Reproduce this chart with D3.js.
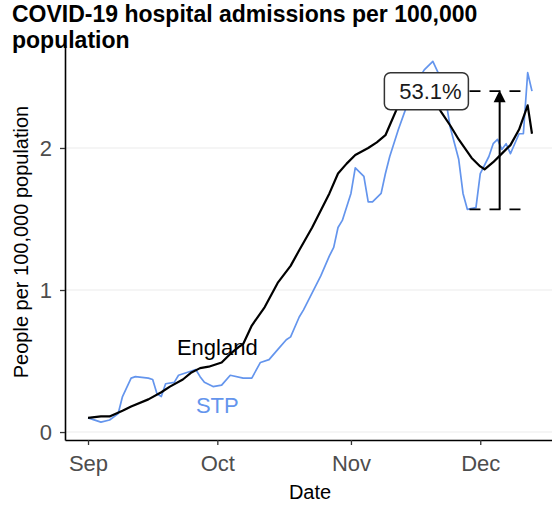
<!DOCTYPE html>
<html><head><meta charset="utf-8">
<script src="https://cdn.jsdelivr.net/npm/d3@7"></script>
<style>body{margin:0;background:#fff}svg{display:block}</style>
</head><body>
<svg id="c" width="552" height="505"></svg>
<script>
const startDate = new Date(2020, 8, 1);
const englandDay = [0,3,5,8,10,14,17,19,22,24,26,28,31,33,35,36,38,41,44,47,49,52,56,58,60,62,65,67,69,70,72,75,77,79,82,84,86,89,91,92,94,96,98,100,102,103];
const englandValue = [0.10,0.11,0.11,0.15,0.18,0.23,0.28,0.32,0.37,0.42,0.45,0.46,0.49,0.55,0.60,0.62,0.75,0.88,1.05,1.17,1.28,1.44,1.68,1.82,1.89,1.95,2.00,2.04,2.09,2.16,2.30,2.42,2.45,2.40,2.25,2.16,2.06,1.93,1.87,1.85,1.90,1.96,2.02,2.13,2.30,2.10];
const stpDay = [0,3,5,7,8,10,11,14,15,16,17,18,20,21,24,25,26,27,29,31,33,36,38,40,42,44,46,47,49,50,52,54,56,57,58,59,61,62,64,65,66,68,69,70,72,74,77,78,80,82,83,84,86,87,88,90,91,93,94,95,96,97,98,99,100,101,102,103];
const stpValue = [0.10,0.07,0.085,0.13,0.25,0.38,0.39,0.38,0.37,0.27,0.25,0.34,0.35,0.40,0.43,0.44,0.39,0.35,0.32,0.33,0.40,0.38,0.38,0.49,0.51,0.58,0.65,0.67,0.81,0.86,0.98,1.10,1.24,1.30,1.44,1.49,1.68,1.86,1.80,1.62,1.62,1.68,1.82,1.94,2.13,2.30,2.50,2.55,2.61,2.48,2.34,2.15,1.92,1.68,1.568,1.58,1.82,1.94,2.03,2.06,1.99,2.03,1.96,2.03,2.10,2.10,2.53,2.40];
const xTickLabels = ["Sep","Oct","Nov","Dec"];
const xTickMonths = [8,9,10,11];
const yTicks = [0,1,2];
const titleLines = ["COVID-19 hospital admissions per 100,000","population"];

const day = d => startDate.getTime() + d*864e5;
const svg = d3.select("#c");
const font = "'Liberation Sans', Arial, sans-serif";

const x = d3.scaleTime().domain([new Date(day(-5.34)), new Date(day(108.34))]).range([65, 555]);
const y = d3.scaleLinear().domain([-0.056, 2.725]).range([440, 45]);

// gridlines
svg.append("g").selectAll("line").data(yTicks).join("line")
  .attr("x1", 65).attr("x2", 555).attr("y1", d=>y(d)).attr("y2", d=>y(d))
  .attr("stroke", "#ebebeb").attr("stroke-width", 1.1);

// lines
const england = englandDay.map((d,i)=>({date:new Date(day(d)), v:englandValue[i]}));
const stp = stpDay.map((d,i)=>({date:new Date(day(d)), v:stpValue[i]}));
const line = d3.line().x(d=>x(d.date)).y(d=>y(d.v));
svg.append("path").datum(stp).attr("d", line).attr("fill","none")
  .attr("stroke","#6495ED").attr("stroke-width",1.7).attr("stroke-linejoin","round");
svg.append("path").datum(england).attr("d", line).attr("fill","none")
  .attr("stroke","#000").attr("stroke-width",2.2).attr("stroke-linejoin","round");

// annotation
const stpLast = stpValue[stpValue.length-1];
const stpMin = d3.min(stpValue.slice(stpDay.indexOf(80)));
const pct = d3.format(".1%")(stpLast/stpMin - 1);
const lineStartDay = 88.5, lineEndDay = 101.5, arrowDay = 95.5, labelDay = 78.5;
[stpLast, stpMin].forEach(v => {
  svg.append("line").attr("x1", x(new Date(day(lineStartDay)))).attr("x2", x(new Date(day(lineEndDay))))
    .attr("y1", y(v)).attr("y2", y(v)).attr("stroke","#000").attr("stroke-width",1.6)
    .attr("stroke-dasharray","11,9");
});
const ax = x(new Date(day(arrowDay)));
svg.append("line").attr("x1",ax).attr("x2",ax).attr("y1",y(stpMin)).attr("y2",y(stpLast)+9)
  .attr("stroke","#000").attr("stroke-width",2);
svg.append("path").attr("d",`M${ax},${y(stpLast)-1} L${ax-6},${y(stpLast)+11} L${ax+6},${y(stpLast)+11} Z`).attr("fill","#000");
const lx = x(new Date(day(labelDay))), ly = y(stpLast);
svg.append("rect").attr("x", lx-42).attr("y", ly-18.5).attr("width",84).attr("height",37)
  .attr("rx",6).attr("fill","#fff").attr("stroke","#333").attr("stroke-width",1.5);
svg.append("text").attr("x", lx+4).attr("y", ly+8).attr("text-anchor","middle")
  .attr("font-family",font).attr("font-size",22).attr("fill","#1a1a1a").text(pct);

// series labels
svg.append("text").attr("x", x(new Date(day(30)))).attr("y", y(0.543)).attr("text-anchor","middle")
  .attr("font-family",font).attr("font-size",22).attr("fill","#000").text("England");
svg.append("text").attr("x", x(new Date(day(30)))).attr("y", y(0.134)).attr("text-anchor","middle")
  .attr("font-family",font).attr("font-size",22).attr("fill","#6495ED").text("STP");

// axes
const yAxis = svg.append("g").attr("transform","translate(65,0)")
  .call(d3.axisLeft(y).tickValues(yTicks).tickFormat(d3.format("d")).tickSize(5).tickSizeOuter(0).tickPadding(8));
const xAxis = svg.append("g").attr("transform","translate(0,440)")
  .call(d3.axisBottom(x).tickValues(xTickMonths.map(m=>new Date(2020,m,1))).tickFormat((d,i)=>xTickLabels[i]).tickSize(5).tickSizeOuter(0).tickPadding(10));
[yAxis, xAxis].forEach(g => {
  g.select(".domain").attr("stroke","#000").attr("stroke-width",1.6);
  g.selectAll(".tick line").attr("stroke","#333").attr("stroke-width",1.3);
  g.selectAll(".tick text").attr("font-family",font).attr("font-size",22).attr("fill","#4d4d4d");
});

// axis titles
svg.append("text").attr("x",310).attr("y",499).attr("text-anchor","middle")
  .attr("font-family",font).attr("font-size",20).attr("fill","#000").text("Date");
svg.append("text").attr("transform","translate(27.5,242) rotate(-90)").attr("text-anchor","middle")
  .attr("font-family",font).attr("font-size",20).attr("fill","#000").text("People per 100,000 population");

// title
svg.append("g").selectAll("text").data(titleLines).join("text")
  .attr("x",12).attr("y",(d,i)=>22+i*26)
  .attr("font-family",font).attr("font-size",23).attr("font-weight","bold").attr("fill","#000").text(d=>d);
</script>
</body></html>
